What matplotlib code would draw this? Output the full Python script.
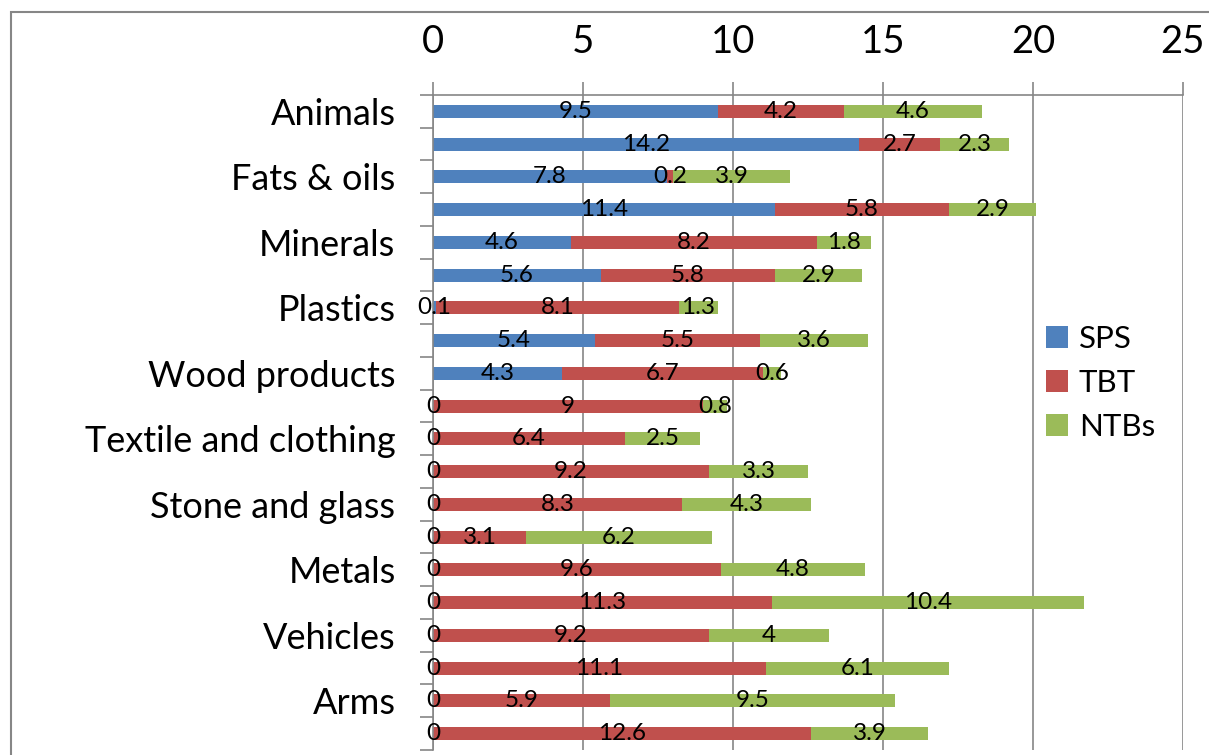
import matplotlib.pyplot as plt
import numpy as np
from matplotlib.patches import Rectangle

plt.rcParams['font.family'] = ['Lato', 'DejaVu Sans']

# every other category has no visible label in the original chart
labels = ['Animals', '', 'Fats & oils', '', 'Minerals', '', 'Plastics', '',
          'Wood products', '', 'Textile and clothing', '', 'Stone and glass', '',
          'Metals', '', 'Vehicles', '', 'Arms', '']
sps = [9.5, 14.2, 7.8, 11.4, 4.6, 5.6, 0.1, 5.4, 4.3, 0, 0, 0, 0, 0, 0, 0, 0, 0, 0, 0]
tbt = [4.2, 2.7, 0.2, 5.8, 8.2, 5.8, 8.1, 5.5, 6.7, 9, 6.4, 9.2, 8.3, 3.1, 9.6, 11.3,
       9.2, 11.1, 5.9, 12.6]
ntb = [4.6, 2.3, 3.9, 2.9, 1.8, 2.9, 1.3, 3.6, 0.6, 0.8, 2.5, 3.3, 4.3, 6.2, 4.8, 10.4,
       4, 6.1, 9.5, 3.9]
xticks = [0, 5, 10, 15, 20, 25]

grey = '#868686'
W, H = 1209, 755
fig = plt.figure(figsize=(W / 100, H / 100), dpi=100)
ax = fig.add_axes([433 / W, 5 / H, (1183 - 433) / W, (750 - 95) / H])

# chart area border (only top and left visible in the crop)
fig.patches.append(Rectangle((11 / W, -0.1), 1.2, 1 - 12 / H + 0.1, transform=fig.transFigure,
                             fill=False, edgecolor=grey, linewidth=1.5))

y = np.arange(len(labels))
sps = np.array(sps)
tbt = np.array(tbt)
ntb = np.array(ntb)
h = 0.4
b1 = ax.barh(y, sps, height=h, color='#4F81BD', label='SPS')
b2 = ax.barh(y, tbt, left=sps, height=h, color='#C0504D', label='TBT')
b3 = ax.barh(y, ntb, left=sps + tbt, height=h, color='#9BBB59', label='NTBs')

fmt = lambda v: f'{v:g}'
ax.bar_label(b1, labels=[fmt(v) for v in sps], label_type='center', fontsize=17.5)
ax.bar_label(b2, labels=[fmt(v) for v in tbt], label_type='center', fontsize=17.5)
ax.bar_label(b3, labels=[fmt(v) for v in ntb], label_type='center', fontsize=17.5)

ax.set_xlim(0, 25)
ax.set_ylim(len(labels) - 0.5, -0.5)
ax.xaxis.tick_top()
ax.set_xticks(xticks)
ax.set_xticklabels([str(t) for t in xticks], fontsize=27.5)
ax.tick_params(axis='x', length=9.5, width=1.2, color=grey, pad=16)

ax.set_yticks(y)
ax.set_yticklabels(labels, fontsize=26)
ax.set_yticks(np.arange(len(labels) + 1) - 0.5, minor=True)
ax.tick_params(axis='y', which='major', length=0, pad=27)
ax.tick_params(axis='y', which='minor', length=9.5, width=1.2, color=grey)

ax.grid(axis='x', color=grey, linewidth=1.2)
ax.set_axisbelow(True)
for s in ['right', 'bottom']:
    ax.spines[s].set_visible(False)
for s in ['top', 'left']:
    ax.spines[s].set_color(grey)
    ax.spines[s].set_linewidth(1.2)

leg = fig.legend(loc='center left', bbox_to_anchor=(1018 / W, 1 - 383 / H), frameon=False,
                 fontsize=22.5, handlelength=0.7, handleheight=0.7, handletextpad=0.35,
                 labelspacing=0.5)

fig.savefig('out.png', dpi=100)
